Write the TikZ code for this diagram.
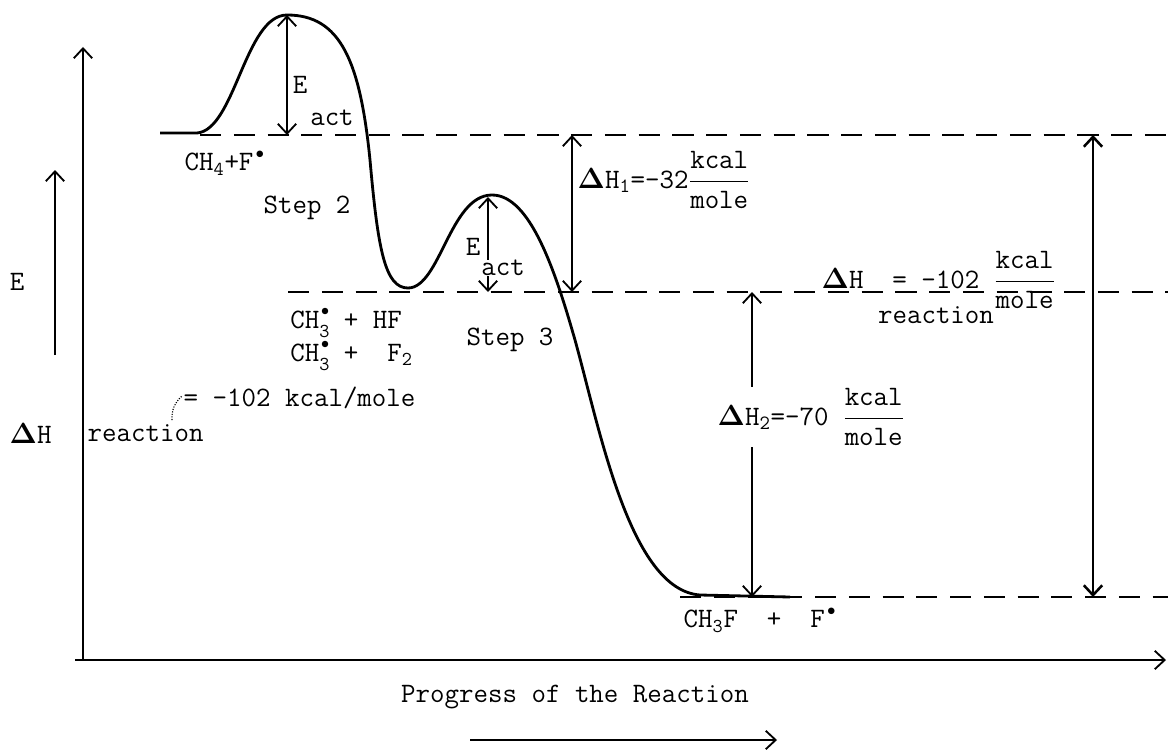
\documentclass[tikz,border=0pt]{standalone}
\usepackage{amsmath, amssymb}
\usepackage{tikz}
\usetikzlibrary{arrows.meta, calc, positioning}
\newcommand{\chsub}{CH\raisebox{-0.32em}{\fontsize{14}{14}\selectfont 3}}
\newcommand{\rad}{\textsuperscript{\fontsize{18}{18}\selectfont\textbullet}}

\begin{document}
\begin{tikzpicture}[x=0.025cm, y=-0.025cm,
    every node/.style={font=\fontsize{20}{22}\selectfont\ttfamily, inner sep=1pt},
    level/.style={line width=1.3pt, dash pattern=on 15pt off 9pt},
    barb/.style={line width=1.3pt, -{Straight Barb[length=7pt,width=13pt]}},
    dbarb/.style={line width=1.3pt, {Straight Barb[length=7pt,width=13pt]}-{Straight Barb[length=7pt,width=13pt]}},
    curve/.style={line width=2pt}]
    \useasboundingbox (0,0) rectangle (1168,755);

    % 坐标轴
    \coordinate (O) at (83,660);
    \coordinate (ytop) at (83,47);
    \coordinate (xend) at (1166,660);
    \draw[barb] (75,660) -- (xend);
    \draw[barb] (O) -- (ytop);

    % E 箭头
    \draw[barb] (55,355) -- (55,170);
    \node (elab) at (17,282) {E};

    % 能级
    \draw[level] (200,135) -- (1168,135);
    \draw[level] (288,292) -- (1168,292);
    \draw[level] (680,597) -- (1168,597);

    % 反应曲线
    \draw[curve] (160,133) -- (197,133)
        .. controls (235,130) and (245,15) .. (287,15)
        .. controls (340,15) and (360,60) .. (370,160)
        .. controls (378,250) and (385,288) .. (408,288)
        .. controls (440,288) and (450,195) .. (492,195)
        .. controls (530,195) and (555,270) .. (575,340)
        .. controls (600,430) and (630,590) .. (700,595)
        -- (790,597);

    % 活化能
    \coordinate (ts1) at (287,15);
    \coordinate (r1) at (287,135);
    \draw[dbarb] (ts1) -- (r1);
    \node (ea1) at (300,85) {E};
    \node (act1) at (332,118) {act};
    \node (step2) at (307,208) {Step 2};

    \coordinate (ts2) at (488,197);
    \coordinate (i1) at (488,292);
    \draw[dbarb] (ts2) -- (i1);
    \node (ea2) at (473,247) {E};
    \node[fill=white, inner sep=0pt] (act2) at (503,268) {act};
    \node (step3) at (510,340) {Step 3};

    % 物种
    \node[right] (reac) at (183,163) {CH\textsubscript{4}+F\rad};
    \node[anchor=base west, inner sep=0pt] (int1) at (290,328) {\chsub\ + HF};
    \node[anchor=base west, inner sep=0pt] (int2) at (290,361) {\chsub\ +\ \ F\textsubscript{2}};
    \fill ($(int1.base west)+(35,-17)$) circle (2.3pt);
    \fill ($(int2.base west)+(35,-17)$) circle (2.3pt);
    \node[right] (prod) at (682,620) {CH\textsubscript{3}F\ \ +\ \ F\rad};

    % 焓变
    \coordinate (h1a) at (572,135);
    \coordinate (h1b) at (572,292);
    \draw[dbarb] (h1a) -- (h1b);
    \node[right] (dh1) at (576,180) {$\mathbf{\Delta}$H$_{\mathtt{1}}$=-32$\dfrac{\text{kcal}}{\text{mole}}$};

    \coordinate (h2a) at (752,292);
    \coordinate (h2b) at (752,597);
    \draw[dbarb] (h2a) -- (h2b);
    \node[right, fill=white] (dh2) at (716,417) {$\mathbf{\Delta}$H$_{\mathtt{2}}$=-70 $\dfrac{\text{kcal}}{\text{mole}}$};

    \coordinate (hra) at (1093,135);
    \coordinate (hrb) at (1093,597);
    \draw[dbarb, line width=1.8pt] (hra) -- (hrb);
    \node[right] (dhr) at (820,280) {$\mathbf{\Delta}$H\ \ = -102 $\dfrac{\text{kcal}}{\text{mole}}$};
    \node (dhrsub) at (936,315) {reaction};

    % 左侧标注
    \node[right] (dhl) at (8,433) {$\mathbf{\Delta}$H};
    \node[right] (reacl) at (86,433) {reaction};
    \node[right] (val) at (182,398) {= -102 kcal/mole};
    \coordinate (dot1) at (172,420);
    \coordinate (dot2) at (182,396);
    \draw[densely dotted, line width=0.8pt] (dot1) to[bend left=25] (dot2);

    % 横轴标注
    \node (prog) at (575,697) {Progress of the Reaction};
    \coordinate (pa) at (470,740);
    \coordinate (pb) at (777,740);
    \draw[barb] (pa) -- (pb);
\end{tikzpicture}
\end{document}
